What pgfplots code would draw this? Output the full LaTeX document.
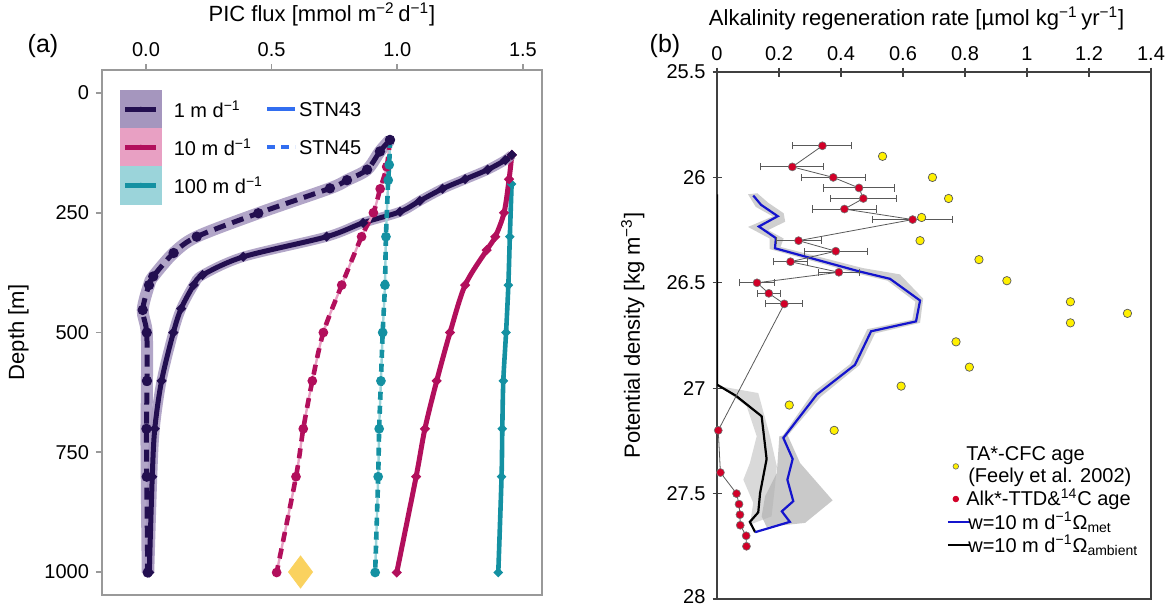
\documentclass[border=0pt]{standalone}
\usepackage{fontspec}
\setmainfont{Liberation Sans}
\usepackage{pgfplots}
\pgfplotsset{compat=1.18}
\definecolor{navy}{RGB}{35,15,80}
\definecolor{lavband}{RGB}{165,150,190}
\definecolor{magen}{RGB}{178,15,92}
\definecolor{pinkband}{RGB}{232,160,195}
\definecolor{tealc}{RGB}{20,145,162}
\definecolor{tealband}{RGB}{155,212,218}
\definecolor{stnblue}{RGB}{50,110,240}
\definecolor{diam}{RGB}{250,210,95}
\definecolor{redpt}{RGB}{210,0,40}
\definecolor{yelpt}{RGB}{255,240,0}
\definecolor{bline}{RGB}{20,20,205}
\begin{document}
\begin{tikzpicture}
\useasboundingbox (0pt,0pt) rectangle (585pt,302.5pt);
\node[font=\fontsize{12.5}{14}\selectfont] at (21.5pt,279.5pt) {(a)};
\node[font=\fontsize{12.5}{14}\selectfont] at (332.5pt,279.5pt) {(b)};
% ---------------- panel (a)
\begin{axis}[
  at={(51pt,5pt)}, anchor=south west, scale only axis,
  width=220pt, height=262.5pt,
  xmin=-0.175, xmax=1.576, ymin=-48, ymax=1048, y dir=reverse,
  axis line style={gray!80, line width=0.8pt},
  xtick={0,0.5,1,1.5}, ytick={0,250,500,750,1000},
  xtick pos=right, xticklabel pos=right, ytick pos=left,
  tick align=outside, major tick length=3pt,
  tick style={gray!80, line width=0.8pt},
  /pgf/number format/assume math mode=true,
  /pgf/number format/1000 sep={},
  xticklabel style={/pgf/number format/fixed, /pgf/number format/fixed zerofill, /pgf/number format/precision=1},
  tick label style={font=\fontsize{10}{12}\selectfont, black},
  xlabel={PIC flux [mmol m\textsuperscript{−2}\,d\textsuperscript{−1}]},
  ylabel={Depth [m]},
  label style={font=\fontsize{11}{13}\selectfont},
  xlabel style={at={(axis description cs:0.5,1.105)}, anchor=center},
  ylabel style={at={(axis description cs:-0.19,0.5)}, anchor=center},
  legend columns=2,
  legend style={at={(0.04,0.962)}, anchor=north west, draw=none, fill=none,
    inner sep=0pt, row sep=0pt, column sep=1pt,
    nodes={inner sep=0pt, text depth=0pt},
    font=\fontsize{10}{12}\selectfont},
  legend cell align=left,
]
\addlegendimage{legend image code/.code={\fill[lavband] (0pt,-9.3pt) rectangle (20.5pt,9.3pt); \draw[navy,line width=2.5pt] (2.5pt,0pt) -- (18pt,0pt); \fill[navy] (10.25pt,0pt) circle (1.1pt);}}
\addlegendentry{\hspace{5pt}1 m d\textsuperscript{−1}}
\addlegendimage{legend image code/.code={\draw[stnblue,line width=2pt] (0pt,0pt) -- (14pt,0pt);}}
\addlegendentry{STN43}
\addlegendimage{legend image code/.code={\fill[pinkband] (0pt,-9.3pt) rectangle (20.5pt,9.3pt); \draw[magen,line width=2.5pt] (2.5pt,0pt) -- (18pt,0pt); \fill[magen] (10.25pt,0pt) circle (1.1pt);}}
\addlegendentry{\hspace{5pt}10 m d\textsuperscript{−1}}
\addlegendimage{legend image code/.code={\draw[stnblue,line width=2pt, dash pattern=on 4pt off 3pt] (0pt,0pt) -- (14pt,0pt);}}
\addlegendentry{STN45}
\addlegendimage{legend image code/.code={\fill[tealband] (0pt,-9.3pt) rectangle (20.5pt,9.3pt); \draw[tealc,line width=2.5pt] (2.5pt,0pt) -- (18pt,0pt); \fill[tealc] (10.25pt,0pt) circle (1.1pt);}}
\addlegendentry{\hspace{5pt}100 m d\textsuperscript{−1}}
% teal solid STN43
\addplot[tealc, line width=2.3pt, smooth, mark=*, mark size=0.8pt, mark options={fill=black!70, draw=none}, forget plot] coordinates {
(1.455,190)(1.448,300)(1.442,401)(1.433,500)(1.422,601)(1.418,701)(1.415,801)(1.402,1001)};
% magenta solid STN43
\addplot[magen, line width=2.5pt, smooth, mark=*, mark size=0.8pt, mark options={fill=black!70, draw=none}, forget plot] coordinates {
(1.456,129)(1.445,180)(1.425,250)(1.39,300)(1.356,328)(1.27,401)(1.21,500)(1.157,601)(1.11,701)(1.075,801)(0.998,1001)};
% bands for dark curves
\addplot[lavband, line width=5pt, smooth, opacity=0.85, forget plot] coordinates {
(1.456,129)(1.43,140)(1.36,160)(1.27,180)(1.18,200)(1.09,225)(1.011,248)(0.864,271)(0.719,300)(0.387,342)(0.225,380)(0.19,401)(0.14,450)(0.109,500)(0.062,601)(0.035,701)(0.025,801)(0.013,1001)};
\addplot[lavband, line width=6pt, smooth, opacity=0.85, forget plot] coordinates {
(0.971,98)(0.931,122)(0.88,160)(0.80,182)(0.732,199)(0.447,251)(0.202,300)(0.11,334)(0.029,383)(0.012,401)(-0.013,453)(0.003,500)(0.004,601)(0.002,701)(0.003,801)(0.007,1001)};
% dark solid STN43
\addplot[navy, line width=2.5pt, smooth, mark=*, mark size=0.8pt, mark options={fill=black!70, draw=none}, forget plot] coordinates {
(1.456,129)(1.43,140)(1.36,160)(1.27,180)(1.18,200)(1.09,225)(1.011,248)(0.864,271)(0.719,300)(0.387,342)(0.225,380)(0.19,401)(0.14,450)(0.109,500)(0.062,601)(0.035,701)(0.025,801)(0.013,1001)};
% thin bands under dashed curves
\addplot[pinkband, line width=1.2pt, smooth, forget plot] coordinates {
(0.971,98)(0.958,154)(0.932,200)(0.905,250)(0.858,300)(0.779,401)(0.706,500)(0.662,601)(0.626,701)(0.597,801)(0.52,1001)};
\addplot[tealband, line width=1.2pt, smooth, forget plot] coordinates {
(0.971,98)(0.968,150)(0.964,182)(0.955,300)(0.951,401)(0.942,500)(0.935,601)(0.928,701)(0.924,801)(0.912,1001)};
% magenta dashed STN45
\addplot[magen, line width=2.3pt, smooth, dash pattern=on 5pt off 3.5pt, mark=*, mark size=1.2pt, mark options={solid, fill=black, draw=none}, forget plot] coordinates {
(0.971,98)(0.958,154)(0.932,200)(0.905,250)(0.858,300)(0.779,401)(0.706,500)(0.662,601)(0.626,701)(0.597,801)(0.52,1001)};
% teal dashed STN45
\addplot[tealc, line width=2.3pt, smooth, dash pattern=on 4pt off 3pt, mark=*, mark size=1.2pt, mark options={solid, fill=black, draw=none}, forget plot] coordinates {
(0.971,98)(0.968,150)(0.964,182)(0.955,300)(0.951,401)(0.942,500)(0.935,601)(0.928,701)(0.924,801)(0.912,1001)};
% dark dashed STN45
\addplot[navy, line width=2.5pt, smooth, dash pattern=on 6pt off 3.5pt, mark=*, mark size=1.25pt, mark options={solid, fill=black, draw=none}, forget plot] coordinates {
(0.971,98)(0.931,122)(0.88,160)(0.80,182)(0.732,199)(0.447,251)(0.202,300)(0.11,334)(0.029,383)(0.012,401)(-0.013,453)(0.003,500)(0.004,601)(0.002,701)(0.003,801)(0.007,1001)};
% observation diamond
\addplot[only marks, mark=diamond*, mark size=8pt, color=diam, forget plot] coordinates {(0.615,1000)};
\end{axis}
% ---------------- panel (b)
\begin{axis}[
  at={(358.5pt,3pt)}, anchor=south west, scale only axis,
  width=217pt, height=263.5pt,
  xmin=0, xmax=1.4, ymin=25.5, ymax=28, y dir=reverse,
  axis line style={black!75, line width=0.7pt},
  xtick={0,0.2,0.4,0.6,0.8,1,1.2,1.4}, ytick={25.5,26,26.5,27,27.5,28},
  xticklabels={0,0.2,0.4,0.6,0.8,1,1.2,1.4},
  yticklabels={25.5,26,26.5,27,27.5,\raisebox{2.5pt}{28}},
  xtick pos=right, xticklabel pos=right, ytick pos=left,
  tick align=center, major tick length=4.5pt,
  tick style={black!75, line width=0.6pt},
  tick label style={font=\fontsize{10}{12}\selectfont, black},
  xlabel={Alkalinity regeneration rate [µmol kg\textsuperscript{−1}\,yr\textsuperscript{−1}]},
  ylabel={Potential density [kg m\textsuperscript{−3}]},
  label style={font=\fontsize{11}{13}\selectfont},
  xlabel style={at={(axis description cs:0.46,1.102)}, anchor=center},
  ylabel style={at={(axis description cs:-0.194,0.5)}, anchor=center},
  legend style={at={(0.515,0.3)}, anchor=north west, draw=none, fill=none,
    row sep=0pt, nodes={align=left, inner sep=0.8pt},
    font=\fontsize{10}{11}\selectfont},
  legend cell align=left,
]
\addlegendimage{legend image code/.code={\draw[fill=yelpt, draw=black!60, line width=0.3pt] (4pt,0pt) circle (1.4pt);}}
\addlegendentry{\hspace{-3pt}TA*-CFC age\\\hspace{-2pt}(Feely et al. 2002)}
\addlegendimage{legend image code/.code={\fill[redpt] (4pt,0pt) circle (1.4pt);}}
\addlegendentry{\hspace{-3pt}Alk*-TTD\&\textsuperscript{14}C age}
\addlegendimage{legend image code/.code={\draw[bline, line width=0.9pt] (0pt,0pt) -- (11pt,0pt);}}
\addlegendentry{\hspace{-2pt}w=10 m d\textsuperscript{−1}Ω\textsubscript{met}}
\addlegendimage{legend image code/.code={\draw[black, line width=0.9pt] (0pt,0pt) -- (11pt,0pt);}}
\addlegendentry{\hspace{-2pt}w=10 m d\textsuperscript{−1}Ω\textsubscript{ambient}}
% gray bands
\addplot[fill=black!15, draw=none, forget plot] coordinates {
(0.010,26.991)(0.133,27.023)(0.171,27.228)(0.193,27.371)(0.187,27.465)(0.176,27.608)(0.106,27.647)(0.117,27.544)(0.085,27.434)(0.106,27.355)(0.128,27.228)(0.096,27.086)} -- cycle;
\addplot[fill=black!25, draw=none, opacity=0.75, forget plot] coordinates {
(0.13,26.075)(0.165,26.12)(0.215,26.17)(0.22,26.21)(0.165,26.25)(0.215,26.29)(0.205,26.33)(0.47,26.43)(0.59,26.46)(0.665,26.575)(0.655,26.69)(0.51,26.74)(0.46,26.89)(0.335,27.04)(0.225,27.23)
(0.205,27.24)(0.31,27.02)(0.43,26.885)(0.485,26.72)(0.63,26.675)(0.64,26.59)(0.55,26.49)(0.45,26.455)(0.17,26.34)(0.17,26.29)(0.10,26.235)(0.18,26.185)(0.125,26.14)(0.10,26.08)} -- cycle;
\addplot[fill=black!30, draw=none, opacity=0.7, forget plot] coordinates {
(0.201,27.228)(0.227,27.220)(0.268,27.355)(0.373,27.532)(0.284,27.639)(0.160,27.658)(0.144,27.608)(0.155,27.513)(0.193,27.402)} -- cycle;
% ambient (black) and met (blue) model lines
\addplot[black, line width=1.1pt, forget plot] coordinates {
(0,26.08)(0,26.983)(0.061,27.036)(0.144,27.133)(0.160,27.336)(0.139,27.497)(0.133,27.589)(0.106,27.634)(0.123,27.683)};
\addplot[bline, line width=1.1pt, forget plot] coordinates {
(0.117,26.086)(0.142,26.13)(0.196,26.184)(0.135,26.233)(0.190,26.288)(0.187,26.336)(0.459,26.446)(0.558,26.481)(0.655,26.584)(0.642,26.683)(0.497,26.73)(0.445,26.889)(0.322,27.03)(0.214,27.236)(0.244,27.336)(0.227,27.434)(0.246,27.536)(0.209,27.584)(0.235,27.634)(0.123,27.683)};
% connecting line of Alk*-TTD points
\addplot[black!65, line width=0.4pt, forget plot] coordinates {
(0.340,25.85)(0.243,25.95)(0.375,26.00)(0.458,26.05)(0.472,26.10)(0.411,26.15)(0.631,26.20)(0.263,26.30)(0.383,26.35)(0.237,26.40)(0.393,26.45)(0.129,26.50)(0.167,26.55)(0.217,26.60)
(0.004,27.2)(0.011,27.4)(0.063,27.5)(0.071,27.55)(0.074,27.6)(0.075,27.65)(0.094,27.7)(0.095,27.75)};
% Alk*-TTD points with error bars
\addplot[forget plot, only marks, mark=*, mark size=2pt, mark options={fill=redpt, draw=black!55, line width=0.3pt},
  error bars/.cd, x dir=both, x explicit, error mark=|, error bar style={black!65, line width=0.5pt}, error mark options={black!65, mark size=1.8pt, line width=0.5pt}]
  table[x=x, y=y, x error minus=em, x error plus=ep] {
x y em ep
0.340 25.85 0.097 0.095
0.243 25.95 0.102 0.100
0.375 26.00 0.102 0.105
0.458 26.05 0.115 0.116
0.472 26.10 0.105 0.108
0.411 26.15 0.103 0.102
0.631 26.20 0.129 0.128
0.263 26.30 0.070 0.075
0.383 26.35 0.101 0.102
0.237 26.40 0.054 0.056
0.393 26.45 0.066 0.066
0.129 26.50 0.058 0.058
0.167 26.55 0.038 0.037
0.217 26.60 0.059 0.060
};
\addplot[only marks, mark=*, mark size=2pt, mark options={fill=redpt, draw=black!55, line width=0.3pt}, forget plot] coordinates {
(0.004,27.2)(0.011,27.4)(0.063,27.5)(0.071,27.55)(0.074,27.6)(0.075,27.65)(0.094,27.7)(0.095,27.75)};
% TA*-CFC points
\addplot[only marks, mark=*, mark size=2.1pt, mark options={fill=yelpt, draw=black!65, line width=0.35pt}, forget plot] coordinates {
(0.534,25.9)(0.695,26.0)(0.747,26.1)(0.66,26.19)(0.655,26.3)(0.845,26.39)(0.935,26.49)(1.14,26.59)(1.324,26.645)(1.14,26.69)(0.771,26.78)(0.814,26.9)(0.594,26.99)(0.233,27.08)(0.378,27.2)};
\end{axis}
\end{tikzpicture}
\end{document}
